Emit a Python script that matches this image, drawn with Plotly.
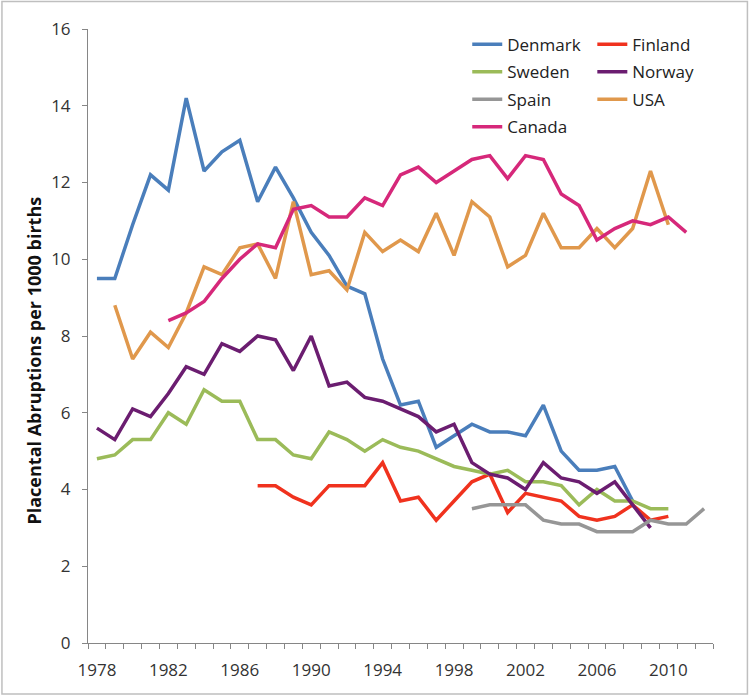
import plotly.graph_objects as go

# data
denmark_years = list(range(1978, 2009))
denmark = [9.5, 9.5, 10.9, 12.2, 11.8, 14.2, 12.3, 12.8, 13.1, 11.5, 12.4, 11.6, 10.7, 10.1, 9.3, 9.1,
           7.4, 6.2, 6.3, 5.1, 5.4, 5.7, 5.5, 5.5, 5.4, 6.2, 5.0, 4.5, 4.5, 4.6, 3.7]

finland_years = list(range(1987, 2011))
finland = [4.1, 4.1, 3.8, 3.6, 4.1, 4.1, 4.1, 4.7, 3.7, 3.8, 3.2, 3.7, 4.2, 4.4, 3.4, 3.9,
           3.8, 3.7, 3.3, 3.2, 3.3, 3.6, 3.2, 3.3]

sweden_years = list(range(1978, 2011))
sweden = [4.8, 4.9, 5.3, 5.3, 6.0, 5.7, 6.6, 6.3, 6.3, 5.3, 5.3, 4.9, 4.8, 5.5, 5.3, 5.0, 5.3,
          5.1, 5.0, 4.8, 4.6, 4.5, 4.4, 4.5, 4.2, 4.2, 4.1, 3.6, 4.0, 3.7, 3.7, 3.5, 3.5]

norway_years = list(range(1978, 2010))
norway = [5.6, 5.3, 6.1, 5.9, 6.5, 7.2, 7.0, 7.8, 7.6, 8.0, 7.9, 7.1, 8.0, 6.7, 6.8, 6.4, 6.3,
          6.1, 5.9, 5.5, 5.7, 4.7, 4.4, 4.3, 4.0, 4.7, 4.3, 4.2, 3.9, 4.2, 3.6, 3.0]

spain_years = list(range(1999, 2013))
spain = [3.5, 3.6, 3.6, 3.6, 3.2, 3.1, 3.1, 2.9, 2.9, 2.9, 3.2, 3.1, 3.1, 3.5]

usa_years = list(range(1979, 2011))
usa = [8.8, 7.4, 8.1, 7.7, 8.6, 9.8, 9.6, 10.3, 10.4, 9.5, 11.5, 9.6, 9.7, 9.2, 10.7, 10.2,
       10.5, 10.2, 11.2, 10.1, 11.5, 11.1, 9.8, 10.1, 11.2, 10.3, 10.3, 10.8, 10.3, 10.8, 12.3, 10.9]

canada_years = list(range(1982, 2012))
canada = [8.4, 8.6, 8.9, 9.5, 10.0, 10.4, 10.3, 11.3, 11.4, 11.1, 11.1, 11.6, 11.4, 12.2, 12.4,
          12.0, 12.3, 12.6, 12.7, 12.1, 12.7, 12.6, 11.7, 11.4, 10.5, 10.8, 11.0, 10.9, 11.1, 10.7]

x_ticks = list(range(1978, 2011, 4))
y_ticks = list(range(0, 17, 2))

series = [
    ("Denmark", denmark_years, denmark, "#4A7EBB", "legend"),
    ("Finland", finland_years, finland, "#F0321E", "legend2"),
    ("Sweden", sweden_years, sweden, "#9BBB59", "legend"),
    ("Norway", norway_years, norway, "#6B1D70", "legend2"),
    ("Spain", spain_years, spain, "#969696", "legend"),
    ("USA", usa_years, usa, "#E0984C", "legend2"),
    ("Canada", canada_years, canada, "#D6287A", "legend"),
]

fig = go.Figure()
for name, yrs, vals, col, leg in series:
    fig.add_trace(go.Scatter(x=yrs, y=vals, name=name, mode="lines",
                             line=dict(color=col, width=3.5), legend=leg,
                             legendgroup=name))

font = "Open Sans, Liberation Sans, sans-serif"
W, H = 752, 696
L, T = 88, 29.4
pw = 624.6
ph = 613.6
leg_top = 27

fig.update_layout(
    width=W, height=H,
    margin=dict(l=L, t=T, r=W - L - pw, b=H - T - ph, pad=0),
    plot_bgcolor="white", paper_bgcolor="white",
    font=dict(family=font, size=17, color="#333333"),
    showlegend=True,
    legend=dict(x=(472 - L - 5) / pw, y=1 - (leg_top - T) / ph, xanchor="left", yanchor="top",
                bgcolor="rgba(0,0,0,0)", font=dict(size=17, color="#222222"),
                tracegroupgap=2.4, itemwidth=30),
    legend2=dict(x=(597 - L - 5) / pw, y=1 - (leg_top - T) / ph, xanchor="left", yanchor="top",
                 bgcolor="rgba(0,0,0,0)", font=dict(size=17, color="#222222"),
                 tracegroupgap=2.4, itemwidth=30),
    xaxis=dict(range=[1977.5, 2012.5], tickvals=x_ticks, ticktext=[str(v) for v in x_ticks],
               ticks="", showgrid=False, zeroline=False, showline=True,
               linecolor="#868686", linewidth=1, ticklabelstandoff=12,
               minor=dict(tick0=1977.5, dtick=1, ticks="outside", ticklen=5,
                          tickcolor="#868686", showgrid=False)),
    yaxis=dict(range=[0, 16], tickvals=y_ticks, ticks="outside", ticklen=5,
               tickcolor="#868686", showgrid=False, zeroline=False, showline=True,
               linecolor="#868686", linewidth=1, ticklabelstandoff=8),
    annotations=[dict(text="<b>Placental Abruptions per 1000 births</b>", textangle=-90,
                      xref="paper", yref="paper", x=0, y=0.46, xshift=-(88 - 34),
                      xanchor="center", yanchor="middle", showarrow=False,
                      font=dict(size=18, color="#111111"))],
    # light grey frame round the whole chart area
    shapes=[dict(type="rect", xref="paper", yref="paper",
                 x0=(2 - L) / pw, x1=(747 - L) / pw,
                 y0=-(694 - 643) / ph, y1=(643 - 2) / ph,
                 line=dict(color="#BFBFBF", width=1.5), layer="below")],
)

fig.write_html("out.html", config={"displayModeBar": False},
               post_script="document.body.style.margin='0';")
